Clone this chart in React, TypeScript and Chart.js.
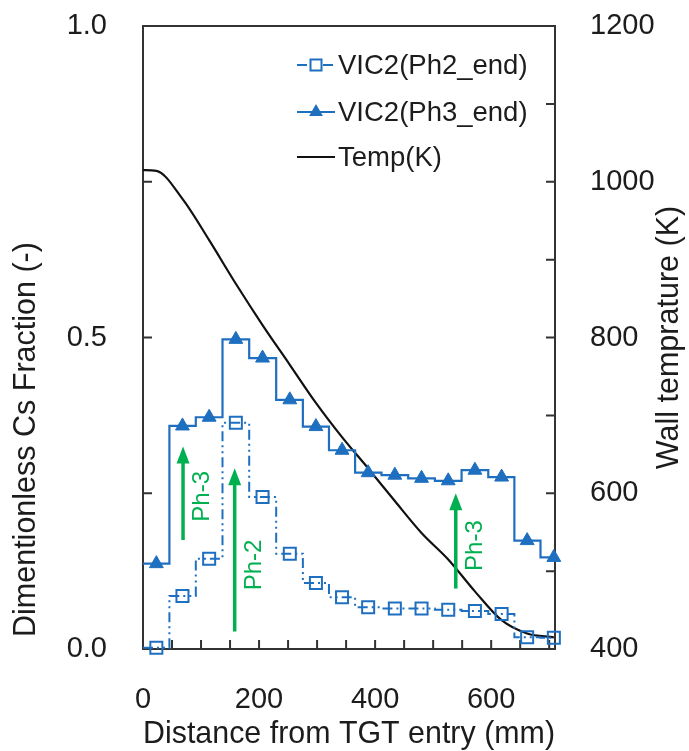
import React, { useEffect, useRef } from 'react';
import { Chart, registerables } from 'chart.js';

Chart.register(...registerables);

// ---- data ----
const distances = [0, 23, 68, 114, 160, 206, 253, 298, 343, 388, 434, 480, 526, 572, 618, 662, 708];
const ph2End = [0.002, 0.002, 0.085, 0.145, 0.363, 0.244, 0.153, 0.106, 0.083, 0.067, 0.065, 0.065, 0.063, 0.061, 0.056, 0.019, 0.018];
const ph3End = [0.137, 0.137, 0.358, 0.372, 0.497, 0.467, 0.4, 0.357, 0.319, 0.283, 0.279, 0.274, 0.27, 0.287, 0.276, 0.174, 0.147];
const wallTemp = [1015, 1014, 978, 925, 869, 816, 765, 716, 672, 632, 590, 549, 515, 474, 437, 420, 415];
const seriesLabels = ['VIC2(Ph2_end)', 'VIC2(Ph3_end)', 'Temp(K)'];

const xTitle = 'Distance from TGT entry (mm)';
const yTitle = 'Dimentionless Cs Fraction (-)';
const y1Title = 'Wall temprature (K)';

// annotation arrows (data coordinates)
const arrowLabels = ['Ph-3', 'Ph-2', 'Ph-3'];
const arrowX = [69, 158, 539];
const arrowFrom = [0.175, 0.028, 0.097];
const arrowTo = [0.325, 0.29, 0.25];
const arrowLabelY = [0.245, 0.135, 0.166];

// ---- styles ----
const FONT = "'Liberation Sans', Arial, sans-serif";
const TEXT = '#1c1c1c';
const AXIS = '#333333';
const BLUE = '#1f6fc0';
const GREEN = '#00b050';

const isMultiple = (v: number, step: number) => Math.abs(v / step - Math.round(v / step)) < 1e-6;

const decorPlugin = {
  id: 'decor',
  beforeDatasetsDraw(chart: any) {
    const { ctx, chartArea: a, scales } = chart;
    ctx.save();
    ctx.strokeStyle = AXIS;
    ctx.lineWidth = 2;
    ctx.strokeRect(a.left, a.top, a.right - a.left, a.bottom - a.top);
    const tl = 9;
    ctx.beginPath();
    scales.x.ticks.forEach((t: any) => {
      if (t.value > scales.x.min && t.value < scales.x.max && isMultiple(t.value, 50)) {
        const px = scales.x.getPixelForValue(t.value);
        ctx.moveTo(px, a.bottom);
        ctx.lineTo(px, a.bottom - tl);
      }
    });
    scales.y.ticks.forEach((t: any) => {
      if (t.value > scales.y.min && t.value < scales.y.max) {
        const py = scales.y.getPixelForValue(t.value);
        ctx.moveTo(a.left, py);
        ctx.lineTo(a.left + tl, py);
      }
    });
    scales.y1.ticks.forEach((t: any) => {
      if (t.value > scales.y1.min && t.value < scales.y1.max) {
        const py = scales.y1.getPixelForValue(t.value);
        ctx.moveTo(a.right, py);
        ctx.lineTo(a.right - tl, py);
      }
    });
    ctx.stroke();
    ctx.restore();
  },
  afterDatasetsDraw(chart: any) {
    const { ctx, scales } = chart;
    const x = scales.x;
    const y = scales.y;
    ctx.save();
    arrowX.forEach((xv, i) => {
      const px = x.getPixelForValue(xv);
      const yb = y.getPixelForValue(arrowFrom[i]);
      const yt = y.getPixelForValue(arrowTo[i]);
      const head = 17;
      ctx.strokeStyle = GREEN;
      ctx.fillStyle = GREEN;
      ctx.lineWidth = 3.5;
      ctx.beginPath();
      ctx.moveTo(px, yb);
      ctx.lineTo(px, yt + head - 2);
      ctx.stroke();
      ctx.beginPath();
      ctx.moveTo(px, yt);
      ctx.lineTo(px - 6.5, yt + head);
      ctx.lineTo(px + 6.5, yt + head);
      ctx.closePath();
      ctx.fill();
      ctx.save();
      ctx.translate(px + 26, y.getPixelForValue(arrowLabelY[i]));
      ctx.rotate(-Math.PI / 2);
      ctx.font = `24px ${FONT}`;
      ctx.textAlign = 'center';
      ctx.textBaseline = 'alphabetic';
      ctx.fillText(arrowLabels[i], 0, 0);
      ctx.restore();
    });
    ctx.restore();
  },
  afterDraw(chart: any) {
    const { ctx, chartArea: a } = chart;
    ctx.save();
    // legend
    const ds = chart.data.datasets;
    const rows = [65, 112, 157];
    const x0 = 297;
    const x1 = 335;
    ds.forEach((d: any, i: number) => {
      const yy = rows[i];
      ctx.save();
      ctx.strokeStyle = d.borderColor;
      ctx.lineWidth = d.borderWidth;
      ctx.setLineDash(d.borderDash || []);
      ctx.beginPath();
      ctx.moveTo(x0, yy);
      ctx.lineTo(x1, yy);
      ctx.stroke();
      ctx.setLineDash([]);
      const cx = (x0 + x1) / 2;
      if (d.pointStyle === 'rect') {
        const s = 11;
        ctx.fillStyle = '#ffffff';
        ctx.fillRect(cx - s / 2, yy - s / 2, s, s);
        ctx.lineWidth = 2;
        ctx.strokeRect(cx - s / 2, yy - s / 2, s, s);
      } else if (d.pointStyle === 'triangle') {
        const r = 8;
        ctx.fillStyle = d.borderColor;
        ctx.beginPath();
        ctx.moveTo(cx, yy - r);
        ctx.lineTo(cx + r * 0.866, yy + r / 2);
        ctx.lineTo(cx - r * 0.866, yy + r / 2);
        ctx.closePath();
        ctx.fill();
      }
      ctx.restore();
      ctx.fillStyle = TEXT;
      ctx.font = `27.5px ${FONT}`;
      ctx.textAlign = 'left';
      ctx.textBaseline = 'middle';
      ctx.fillText(d.label, 338, yy + 1);
    });
    // vertical axis titles (both read bottom-to-top)
    ctx.fillStyle = TEXT;
    ctx.font = `30.5px ${FONT}`;
    ctx.textBaseline = 'alphabetic';
    ctx.save();
    ctx.translate(35, 637);
    ctx.rotate(-Math.PI / 2);
    ctx.textAlign = 'left';
    ctx.fillText(yTitle, 0, 0);
    ctx.restore();
    ctx.save();
    ctx.translate(678, (a.top + a.bottom) / 2);
    ctx.rotate(-Math.PI / 2);
    ctx.textAlign = 'center';
    ctx.fillText(y1Title, 0, 0);
    ctx.restore();
    ctx.restore();
  },
};

const noScalePadding = (s: any) => {
  s.paddingTop = 0;
  s.paddingBottom = 0;
  s.paddingLeft = 0;
  s.paddingRight = 0;
};

export default function App() {
  const ref = useRef<HTMLCanvasElement>(null);

  useEffect(() => {
    const canvas = ref.current;
    if (!canvas) return;
    const tickFont = { family: FONT, size: 29 };
    const markerRadius = (r: number) => distances.map((_, i) => (i === 0 ? 0 : r));
    const chart = new Chart(canvas, {
      type: 'line',
      data: {
        datasets: [
          {
            label: seriesLabels[0],
            data: distances.map((d, i) => ({ x: d, y: ph2End[i] })),
            xAxisID: 'x',
            yAxisID: 'y',
            borderColor: BLUE,
            backgroundColor: 'rgba(0,0,0,0)',
            borderWidth: 2,
            borderDash: [10, 4, 2, 4, 2, 4],
            stepped: 'middle',
            pointStyle: 'rect',
            pointRadius: markerRadius(8.5),
            pointHoverRadius: markerRadius(8.5),
            pointBorderWidth: 2,
            pointBorderColor: BLUE,
            pointBackgroundColor: 'rgba(0,0,0,0)',
            clip: false,
          } as any,
          {
            label: seriesLabels[1],
            data: distances.map((d, i) => ({ x: d, y: ph3End[i] })),
            xAxisID: 'x',
            yAxisID: 'y',
            borderColor: BLUE,
            backgroundColor: BLUE,
            borderWidth: 2.2,
            stepped: 'middle',
            pointStyle: 'triangle',
            pointRadius: markerRadius(8),
            pointHoverRadius: markerRadius(8),
            pointBorderWidth: 1,
            pointBorderColor: BLUE,
            pointBackgroundColor: BLUE,
            clip: false,
          } as any,
          {
            label: seriesLabels[2],
            data: distances.map((d, i) => ({ x: d, y: wallTemp[i] })),
            xAxisID: 'x',
            yAxisID: 'y1',
            borderColor: '#111111',
            backgroundColor: '#111111',
            borderWidth: 2.2,
            cubicInterpolationMode: 'monotone',
            pointRadius: 0,
            pointHoverRadius: 0,
            clip: false,
          } as any,
        ],
      },
      options: {
        animation: false,
        responsive: false,
        events: [],
        layout: { padding: { top: 26, left: 0, right: 0, bottom: 0 } },
        plugins: {
          legend: { display: false },
          tooltip: { enabled: false },
        },
        scales: {
          x: {
            type: 'linear',
            min: 0,
            max: 710,
            grid: { display: false, drawTicks: false },
            border: { display: false },
            ticks: {
              stepSize: 50,
              includeBounds: false,
              autoSkip: false,
              maxRotation: 0,
              padding: 34,
              color: TEXT,
              font: tickFont,
              callback: (v: any) => (isMultiple(Number(v), 200) ? String(v) : ''),
            },
            title: {
              display: true,
              text: xTitle,
              color: TEXT,
              font: { family: FONT, size: 30.5, lineHeight: 1 },
              padding: { top: 0, bottom: 1 },
            },
            afterFit: (s: any) => {
              s.height = 102;
              noScalePadding(s);
            },
          },
          y: {
            type: 'linear',
            position: 'left',
            min: 0,
            max: 1,
            grid: { display: false, drawTicks: false },
            border: { display: false },
            ticks: {
              stepSize: 0.25,
              autoSkip: false,
              padding: 36,
              color: TEXT,
              font: tickFont,
              callback: (v: any) => (isMultiple(Number(v), 0.5) ? Number(v).toFixed(1) : ''),
            },
            afterFit: (s: any) => {
              s.width = 143;
              noScalePadding(s);
            },
          },
          y1: {
            type: 'linear',
            position: 'right',
            min: 400,
            max: 1200,
            grid: { display: false, drawTicks: false },
            border: { display: false },
            ticks: {
              stepSize: 100,
              autoSkip: false,
              padding: 35,
              color: TEXT,
              font: tickFont,
              callback: (v: any) => (isMultiple(Number(v), 200) ? String(v) : ''),
            },
            afterFit: (s: any) => {
              s.width = 134;
              noScalePadding(s);
            },
          },
        },
      } as any,
      plugins: [decorPlugin],
    });
    return () => chart.destroy();
  }, []);

  return (
    <div style={{ position: 'fixed', left: 0, top: 0, width: 689, height: 751, background: '#ffffff' }}>
      <canvas ref={ref} width={689} height={751} style={{ display: 'block', width: 689, height: 751 }} />
    </div>
  );
}
